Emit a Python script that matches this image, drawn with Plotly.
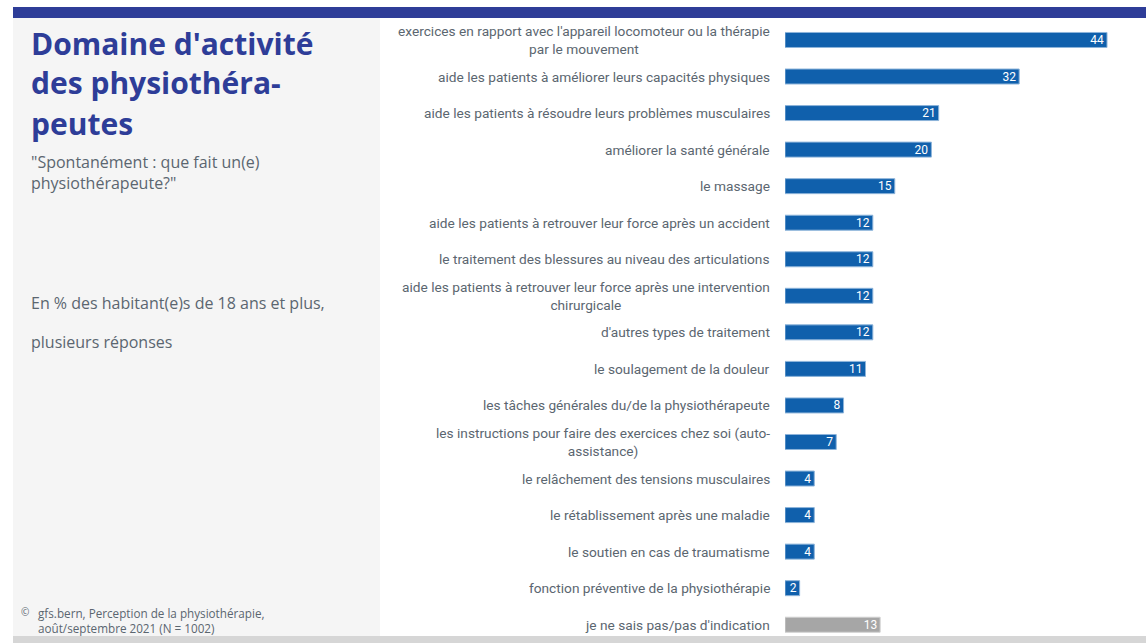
import plotly.graph_objects as go

# Survey answers (top to bottom) and their shares in %
categories = [
    "exercices en rapport avec l'appareil locomoteur ou la thérapie<br>par le mouvement",
    "aide les patients à améliorer leurs capacités physiques",
    "aide les patients à résoudre leurs problèmes musculaires",
    "améliorer la santé générale",
    "le massage",
    "aide les patients à retrouver leur force après un accident",
    "le traitement des blessures au niveau des articulations",
    "aide les patients à retrouver leur force après une intervention<br>chirurgicale",
    "d'autres types de traitement",
    "le soulagement de la douleur",
    "les tâches générales du/de la physiothérapeute",
    "les instructions pour faire des exercices chez soi (auto-<br>assistance)",
    "le relâchement des tensions musculaires",
    "le rétablissement après une maladie",
    "le soutien en cas de traumatisme",
    "fonction préventive de la physiothérapie",
    "je ne sais pas/pas d'indication",
]
values = [44, 32, 21, 20, 15, 12, 12, 12, 12, 11, 8, 7, 4, 4, 4, 2, 13]
no_answer = "je ne sais pas/pas d'indication"

W, H = 1146, 643
BLUE = "#1060AC"
GREY = "#A6A6A6"
NAVY = "#2E3D98"
TEXT = "#5B6670"


def px(x):
    return x / W


def py(y):
    return 1 - y / H


bar_colors = [GREY if c == no_answer else BLUE for c in categories]
line_colors = ["#D0D0D0" if c == no_answer else "#8DB4DA" for c in categories]

fig = go.Figure(
    go.Bar(
        x=values,
        y=categories,
        orientation="h",
        width=0.41,
        marker=dict(color=bar_colors, line=dict(color=line_colors, width=1)),
        text=[str(v) for v in values],
        textposition="inside",
        insidetextanchor="end",
        textangle=0,
        constraintext="none",
        textfont=dict(color="white", size=12, family="Roboto, sans-serif"),
        hoverinfo="skip",
        cliponaxis=False,
    )
)

unit_px = 322 / 44
x0_px = 785

fig.update_layout(
    width=W,
    height=H,
    margin=dict(l=0, r=0, t=0, b=0),
    paper_bgcolor="white",
    plot_bgcolor="rgba(0,0,0,0)",
    showlegend=False,
    uniformtext=dict(minsize=12, mode="show"),
    xaxis=dict(
        domain=[px(x0_px), 1],
        range=[0, (W - x0_px) / unit_px],
        visible=False,
        fixedrange=True,
    ),
    yaxis=dict(
        domain=[0, py(21.7)],
        range=[len(categories) - 0.5, -0.5],
        showticklabels=False,
        showgrid=False,
        zeroline=False,
        showline=False,
        ticks="",
        fixedrange=True,
    ),
    shapes=[
        # left info panel
        dict(type="rect", xref="paper", yref="paper", x0=px(13), x1=px(380),
             y0=py(636), y1=py(18), fillcolor="#F5F5F5", line_width=0, layer="below"),
        # header band
        dict(type="rect", xref="paper", yref="paper", x0=px(13), x1=1,
             y0=py(18), y1=py(7), fillcolor=NAVY, line_width=0, layer="below"),
        # footer band
        dict(type="rect", xref="paper", yref="paper", x0=px(13), x1=1,
             y0=0, y1=py(636), fillcolor="#D6D6D6", line_width=0, layer="below"),
    ],
)

label_font = dict(family="Roboto, sans-serif", size=13.7, color=TEXT)
for cat in categories:
    fig.add_annotation(
        x=px(772), xref="paper", y=cat, yref="y",
        text=cat, showarrow=False, xanchor="right", yanchor="middle",
        align="center", font=label_font,
    )

side_font = "Open Sans, Roboto, sans-serif"


def side_text(text, y, size, color=TEXT, x=29, bold=False):
    fig.add_annotation(
        x=px(x), y=py(y), xref="paper", yref="paper", xanchor="left", yanchor="middle",
        text=f"<b>{text}</b>" if bold else text, align="left", showarrow=False,
        font=dict(family=side_font, size=size, color=color),
    )


side_text("Domaine d'activité", 43, 30, NAVY, bold=True)
side_text("des physiothéra-", 83, 30, NAVY, bold=True)
side_text("peutes", 123, 30, NAVY, bold=True)
side_text("\"Spontanément : que fait un(e)<br>physiothérapeute?\"", 173, 16)
side_text("En % des habitant(e)s de 18 ans et plus,", 303, 16)
side_text("plusieurs réponses", 342, 16)
side_text("©", 612, 10, x=19)
side_text("gfs.bern, Perception de la physiothérapie,<br>août/septembre 2021 (N = 1002)", 620, 11.7, x=36)

fig.write_html("out.html", config={"displayModeBar": False})
